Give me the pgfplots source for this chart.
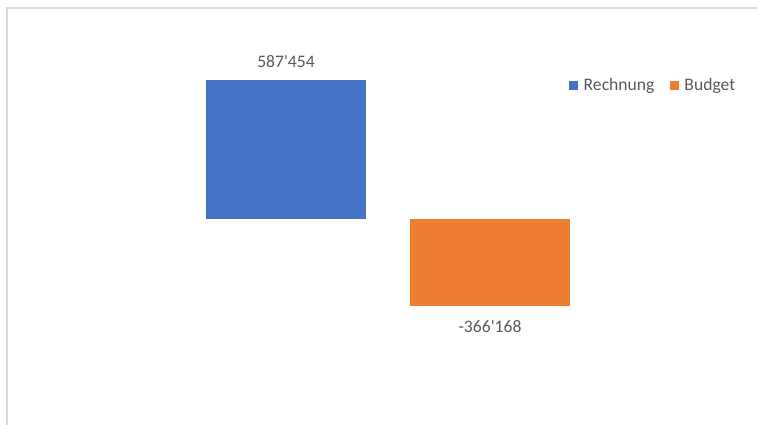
\documentclass[border=0pt]{standalone}
\usepackage{pgfplots}
\pgfplotsset{compat=1.18}
\usepackage{fontspec}
\setmainfont{Carlito}
\definecolor{rblue}{HTML}{4472C4}
\definecolor{borange}{HTML}{ED7D31}
\definecolor{tgray}{HTML}{595959}
\definecolor{framegray}{HTML}{D9D9D9}
\begin{document}
\begin{tikzpicture}[font=\fontsize{17.6}{21}\selectfont]
\path[use as bounding box] (0pt,0pt) rectangle (757pt,424pt);
\draw[framegray, line width=1.5pt] (7pt,-5pt) -- (7pt,416pt) -- (770pt,416pt);
\begin{axis}[
  at={(82pt,24.9pt)}, anchor=south west,
  scale only axis, width=612pt, height=369.7pt,
  hide axis, clip=false,
  xmin=-1, xmax=2, ymin=-760000, ymax=800000,
  ybar, bar width=160pt,
  point meta=explicit symbolic,
  legend columns=2,
  legend style={at={(0.7958,0.8496)}, anchor=west, draw=none, fill=none,
    inner sep=0pt, nodes={inner sep=1.5pt, text=tgray},
    /tikz/every even column/.append style={column sep=14pt}},
  legend image code/.code={\fill[#1, draw=none] (0pt,-4.5pt) rectangle (9pt,4.5pt); \path (0pt,0pt) -- (13pt,0pt);},
]
\addplot[fill=rblue, draw=none, bar shift=0pt, nodes near coords,
  every node near coord/.append style={text=tgray, anchor=base, yshift=12pt}]
  coordinates {(0,587454) [587\textquotesingle 454]};
\addlegendentry{Rechnung}
\addplot[fill=borange, draw=none, bar shift=0pt, nodes near coords,
  every node near coord/.append style={text=tgray, anchor=base, yshift=-27pt}]
  coordinates {(1,-366168) [-366\textquotesingle 168]};
\addlegendentry{Budget}
\end{axis}
\end{tikzpicture}
\end{document}
